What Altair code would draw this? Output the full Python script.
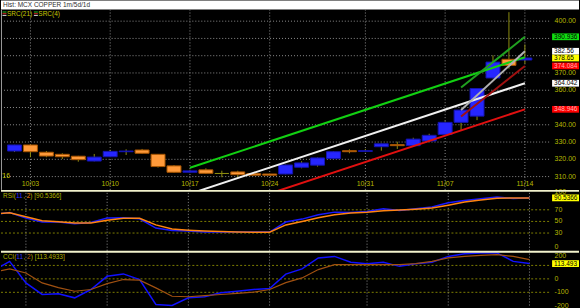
import json
import altair as alt
import pandas as pd

# ---------------- data ----------------
dates = ["09/30", "10/03", "10/04", "10/05", "10/06", "10/07", "10/10", "10/11", "10/12",
         "10/13", "10/14", "10/17", "10/18", "10/19", "10/20", "10/21", "10/24", "10/25",
         "10/26", "10/27", "10/28", "10/30", "10/31", "11/01", "11/02", "11/03", "11/04",
         "11/07", "11/08", "11/09", "11/10", "11/11", "11/14"]
opens = [324.8, 328.3, 324.1, 322.9, 321.8, 319.0, 321.5, 324.4, 325.4, 322.9, 316.2, 312.5,
         313.9, 311.8, 312.7, 311.7, 311.5, 311.5, 315.4, 316.6, 320.4, 325.0, 324.6, 327.3,
         328.5, 327.9, 330.6, 334.4, 341.4, 345.0, 367.1, 377.9, 377.5]
closes = [328.3, 324.4, 321.9, 321.5, 319.8, 321.3, 324.6, 324.8, 323.5, 315.8, 312.5, 313.3,
          311.9, 311.8, 311.1, 310.8, 310.8, 316.7, 317.9, 320.8, 324.4, 324.4, 325.0, 329.0,
          327.9, 331.7, 333.9, 341.4, 348.5, 361.0, 376.3, 374.4, 378.65]
highs = [328.4, 328.5, 324.8, 323.5, 322.0, 323.1, 325.5, 325.8, 326.0, 323.0, 316.6, 314.0,
         314.8, 313.4, 313.4, 311.9, 311.7, 316.9, 318.9, 321.0, 324.6, 325.8, 326.0, 329.2,
         330.2, 332.5, 334.8, 342.1, 348.7, 361.2, 380.2, 405.2, 386.5]
lows = [324.2, 321.2, 321.2, 320.2, 318.6, 318.8, 321.3, 322.5, 323.3, 315.2, 312.3, 312.3,
        311.7, 309.6, 309.4, 310.6, 310.6, 311.3, 314.8, 315.8, 320.2, 323.5, 324.1, 325.0,
        326.0, 327.7, 330.4, 334.2, 336.9, 342.7, 366.9, 372.5, 375.4]

tick_labels = ["10/03", "10/10", "10/17", "10/24", "10/31", "11/07", "11/14"]
price_grid = [310, 320, 330, 340, 350, 360, 370, 380, 390, 400]
price_labels = [310, 320, 330, 340, 360, 370, 400]
rsi_labels = [0, 30, 50, 70, 100]
rsi_grid = [30, 50, 70]
cci_labels = [-200, -100, 0, 200]
cci_grid = [-100, 0, 100]

# indicator values for bars -1 .. 32
ind_idx = list(range(-1, 33))
rsi = [62, 65.4, 55.7, 49, 48.9, 46, 48.2, 55.7, 56.3, 54.5, 38.6, 34.5, 33.4, 32, 31.7,
       31.7, 31.7, 31.7, 49, 54, 61.5, 66, 65.4, 67.1, 72, 69, 72, 75, 82, 86, 89, 92, 89.5,
       90.54]
rsi_signal = [63, 65, 58, 51, 49.5, 47.5, 47.5, 52, 55.5, 55.5, 44, 37, 35, 33.5, 32.5, 32,
              31.5, 31.5, 44, 50, 56.5, 61.5, 64.5, 66, 68.5, 69.5, 71, 73, 78, 83.5, 87, 90,
              90.5, 90.5]
cci = [60, 130, -30, -116, -111, -141, -79, 19, 37, -5, -190, -198, -141, -133, -104, -92,
       -79, -72, 35, 74, 156, 167, 123, 113, 123, 93, 113, 123, 167, 187, 193, 193, 130,
       113.49]
cci_signal = [50, 74, 44, -30, -65, -92, -79, -35, -5, -10, -67, -129, -133, -125, -116, -108,
              -99, -79, -28, 7, 69, 106, 106, 106, 106, 106, 113, 130, 156, 167, 175, 180, 167,
              143]

# regression channels (start bar, end bar, start value, end value)
src21_bars = [11, 32]
src21_upper = [315.09, 379.14]
src21_mid = [300.0, 364.042]
src21_lower = [284.9, 348.946]
src4_bars = [28, 32]
src4_upper = [361.6, 390.936]
src4_mid = [348.5, 382.56]
src4_lower = [344.75, 374.084]

price_tags = [390.936, 382.56, 378.65, 374.084, 364.042, 348.946]
price_tag_kinds = ["src4_upper", "src4_mid", "last", "src4_lower", "src21_mid", "src21_lower"]
price_tag_texts = ["390.936", "382.56", "378.65", "374.084", "364.042", "348.946"]
rsi_tag = 90.5366
cci_tag = 113.493

# ---------------- styling ----------------
FONT = "Liberation Sans"
FS = 7
AXIS_TXT = "#b8b800"
OLIVE_TXT = "#b0b000"
BAR_W = 16.3
X0 = 8.7
PLOT_W = 552
LABEL_X = 555.5
xdom = [-X0 / BAR_W, (PLOT_W - X0) / BAR_W]
xscale = alt.Scale(domain=xdom, nice=False, zero=False)
tick_pos = [dates.index(t) for t in tick_labels]
GRID = "#8c8c8c"
NOAX = None

# Arial / Liberation Sans advance widths (per em) for caption layout
CW = {"R": .722, "S": .667, "I": .278, "C": .722, "(": .333, ")": .333, ",": .278, " ": .278,
      "[": .278, "]": .278, ".": .278}

candles = pd.DataFrame({"i": list(range(len(dates))), "date": dates, "open": opens,
                        "high": highs, "low": lows, "close": closes})
candles["dir"] = ["up" if c > o else ("down" if c < o else "flat")
                  for o, c in zip(opens, closes)]

def seg(name, bars, vals):
    return pd.DataFrame({"line": name, "i": bars, "v": vals})

chan = pd.concat([
    seg("u21", src21_bars, src21_upper), seg("m21", src21_bars, src21_mid),
    seg("l21", src21_bars, src21_lower), seg("u4", src4_bars, src4_upper),
    seg("m4", src4_bars, src4_mid), seg("l4", src4_bars, src4_lower)])

one = pd.DataFrame({"k": [0]})
ticks_df = pd.DataFrame({"i": tick_pos, "lab": tick_labels})


def vgrid(h):
    return alt.Chart(ticks_df).mark_rule(color=GRID, strokeDash=[1, 2], strokeWidth=1).encode(
        x=alt.X("i:Q", scale=xscale, axis=NOAX), y=alt.value(0), y2=alt.value(h))


def hgrid(vals, ys, color, dash):
    return alt.Chart(pd.DataFrame({"g": vals})).mark_rule(
        color=color, strokeDash=dash, strokeWidth=1).encode(
        y=alt.Y("g:Q", scale=ys, axis=NOAX), x=alt.value(0), x2=alt.value(PLOT_W))


def ylabels(vals, ys, fmt, baseline="middle"):
    df = pd.DataFrame({"v": vals, "t": [fmt % v for v in vals]})
    return alt.Chart(df).mark_text(align="left", baseline=baseline, font=FONT, fontSize=FS,
                                   color=AXIS_TXT, clip=False).encode(
        x=alt.value(LABEL_X), y=alt.Y("v:Q", scale=ys, axis=NOAX), text="t:N")


def caption(parts, y, size=6.5):
    layers = []
    x = 2.0
    for txt, col in parts:
        layers.append(alt.Chart(pd.DataFrame({"t": [txt]})).mark_text(
            align="left", baseline="middle", font=FONT, fontSize=size, color=col).encode(
            x=alt.value(x), y=alt.value(y), text="t:N"))
        x += sum(CW.get(ch, .556) for ch in txt) * size
    return layers


# ---------------- title panel ----------------
title_bg = alt.Chart(one).mark_rect(color="white").encode(
    x=alt.value(0), x2=alt.value(580), y=alt.value(0), y2=alt.value(9))
title_txt = alt.Chart(pd.DataFrame({"t": ["Hist: MCX COPPER 1m/5d/1d"]})).mark_text(
    align="left", baseline="middle", font=FONT, fontSize=6.5, color="#303030"
).encode(x=alt.value(2), y=alt.value(4.5), text="t:N")
title_panel = alt.layer(title_bg, title_txt).properties(width=580, height=9)

# ---------------- main panel ----------------
MAIN_H = 181
ydom = [302.3, 406.75]
yscale = alt.Scale(domain=ydom, nice=False, zero=False)

cbase = alt.Chart(candles)
wicks = cbase.mark_rule(color="#8c8c10", strokeWidth=1).encode(
    x=alt.X("i:Q", scale=xscale, axis=NOAX),
    y=alt.Y("low:Q", scale=yscale, axis=NOAX), y2="high:Q")
bodies = cbase.mark_bar(size=14, strokeWidth=1).encode(
    x=alt.X("i:Q", scale=xscale, axis=NOAX),
    y=alt.Y("open:Q", scale=yscale, axis=NOAX), y2="close:Q",
    fill=alt.Fill("dir:N", scale=alt.Scale(domain=["up", "down", "flat"],
                                           range=["#2626ff", "#ff9a3a", "#8c8c10"]), legend=None),
    stroke=alt.Stroke("dir:N", scale=alt.Scale(domain=["up", "down", "flat"],
                                               range=["#1414b0", "#a85400", "#8c8c10"]), legend=None))
lines = alt.Chart(chan).mark_line(clip=True).encode(
    x=alt.X("i:Q", scale=xscale, axis=NOAX), y=alt.Y("v:Q", scale=yscale, axis=NOAX),
    detail="line:N",
    color=alt.Color("line:N", scale=alt.Scale(
        domain=["u21", "m21", "l21", "u4", "m4", "l4"],
        range=["#12d012", "#f0f0f0", "#e01010", "#20a020", "#b0b0b0", "#a01010"]), legend=None),
    strokeWidth=alt.StrokeWidth("line:N", scale=alt.Scale(
        domain=["u21", "m21", "l21", "u4", "m4", "l4"], range=[2, 2, 2, 1, 1, 1]), legend=None))

tags = pd.DataFrame({"v": price_tags, "kind": price_tag_kinds, "txt": price_tag_texts})
tag_kinds = ["src4_upper", "src4_mid", "last", "src4_lower", "src21_mid", "src21_lower"]
tag_rect = alt.Chart(tags).transform_calculate(lo="datum.v - 1.95", hi="datum.v + 1.95").mark_rect(
    clip=False).encode(
    x=alt.value(553), x2=alt.value(580), y=alt.Y("lo:Q", scale=yscale, axis=NOAX), y2="hi:Q",
    fill=alt.Fill("kind:N", scale=alt.Scale(domain=tag_kinds, range=[
        "#10e010", "#ffffff", "#ffff00", "#ff0000", "#ffffff", "#ff0000"]), legend=None))
tag_text = alt.Chart(tags).mark_text(align="left", baseline="middle", font=FONT, fontSize=6.5,
                                     clip=False).encode(
    x=alt.value(555), y=alt.Y("v:Q", scale=yscale, axis=NOAX), text="txt:N",
    color=alt.Color("kind:N", scale=alt.Scale(domain=tag_kinds, range=[
        "#000000", "#000000", "#000000", "#ffb0b0", "#000000", "#ffb0b0"]), legend=None))

date_txt = alt.Chart(ticks_df).mark_text(align="center", baseline="middle", font=FONT,
                                         fontSize=FS, color=AXIS_TXT).encode(
    x=alt.X("i:Q", scale=xscale, axis=NOAX), y=alt.value(175.5), text="lab:N")

hdr = alt.Chart(pd.DataFrame({"t": ["SRC(21)", "SRC(4)"], "px": [6, 37.5]})).mark_text(
    align="left", baseline="middle", font=FONT, fontSize=6.5, color="#c8c800").encode(
    x=alt.X("px:Q", scale=None), y=alt.value(4.5), text="t:N")
icons = []
for x0 in (1.5, 33):
    for yy, col in ((2.5, "#20c020"), (4.2, "#d02020"), (5.9, "#e0e0e0")):
        icons.append(alt.Chart(one).mark_rule(color=col, strokeWidth=1).encode(
            x=alt.value(x0), x2=alt.value(x0 + 4), y=alt.value(yy)))
yr = alt.Chart(pd.DataFrame({"t": ["'16"]})).mark_text(
    align="left", baseline="middle", font=FONT, fontSize=FS, color="#c8c800").encode(
    x=alt.value(0), y=alt.value(167.5), text="t:N")
leftline = alt.Chart(one).mark_rule(color="#9a9a9a", strokeWidth=1).encode(
    x=alt.value(0.5), y=alt.value(0), y2=alt.value(MAIN_H))

main = alt.layer(
    hgrid(price_grid, yscale, GRID, [1, 2]), vgrid(MAIN_H),
    ylabels(price_labels, yscale, "%.2f"), date_txt,
    wicks, bodies, lines, tag_rect, tag_text, hdr, yr, leftline, *icons
).resolve_scale(
    fill="independent", color="independent", stroke="independent", strokeWidth="independent"
).properties(width=PLOT_W, height=MAIN_H)


# ---------------- indicator panels ----------------
def sub_panel(height, dom, main_vals, sig_vals, colors, widths, label_vals, grid_values,
              tag_val, tag_txt, cap_parts, top_lab, bottom_lab):
    ys = alt.Scale(domain=dom, nice=False, zero=False)
    df = pd.concat([pd.DataFrame({"i": ind_idx, "v": main_vals, "s": "main"}),
                    pd.DataFrame({"i": ind_idx, "v": sig_vals, "s": "sig"})])
    ln = alt.Chart(df).mark_line(clip=True).encode(
        x=alt.X("i:Q", scale=xscale, axis=NOAX),
        y=alt.Y("v:Q", scale=ys, axis=NOAX),
        detail="s:N",
        color=alt.Color("s:N", scale=alt.Scale(domain=["sig", "main"], range=colors[::-1]),
                        legend=None),
        strokeWidth=alt.StrokeWidth("s:N", scale=alt.Scale(domain=["sig", "main"],
                                                           range=widths[::-1]), legend=None),
        order=alt.Order("s:N"))
    tg = pd.DataFrame({"v": [tag_val], "txt": [tag_txt]})
    half = (dom[1] - dom[0]) / height * 3.4
    trect = alt.Chart(tg).transform_calculate(
        lo="datum.v - %f" % half, hi="datum.v + %f" % half).mark_rect(
        clip=False, color="#ffff00").encode(
        x=alt.value(553), x2=alt.value(580), y=alt.Y("lo:Q", scale=ys, axis=NOAX), y2="hi:Q")
    ttxt = alt.Chart(tg).mark_text(align="left", baseline="middle", font=FONT, fontSize=6.5,
                                   color="black", clip=False).encode(
        x=alt.value(555), y=alt.Y("v:Q", scale=ys, axis=NOAX), text="txt:N")
    sep = alt.Chart(one).mark_rule(color="#f2f2cc", strokeWidth=2).encode(
        x=alt.value(0), x2=alt.value(580), y=alt.value(1))
    mid_labels = [v for v in label_vals if v not in (top_lab, bottom_lab)]
    lab_layers = [ylabels(mid_labels, ys, "%d")]
    if top_lab is not None:
        lab_layers.append(ylabels([top_lab], ys, "%d", "top"))
    if bottom_lab is not None:
        lab_layers.append(ylabels([bottom_lab], ys, "%d", "bottom"))
    return alt.layer(
        hgrid(grid_values, ys, "#7c7c00", [2, 2]), vgrid(height), *lab_layers,
        ln, trect, ttxt, *caption(cap_parts, 6), sep
    ).resolve_scale(color="independent", strokeWidth="independent").properties(
        width=PLOT_W, height=height)


rsi_panel = sub_panel(61, [-0.34, 104.3], rsi, rsi_signal, ["#1818ff", "#ff8410"],
                      [1.5, 1.5], rsi_labels, rsi_grid, rsi_tag, "90.5366",
                      [("RSI(", OLIVE_TXT), ("11", "#3030ff"), (", ", OLIVE_TXT),
                       ("2", "#ff8410"), (") [90.5366]", OLIVE_TXT)], None, 0)
cci_panel = sub_panel(57, [-212.6, 209.6], cci, cci_signal, ["#1010ff", "#a05010"],
                      [1.5, 1.2], cci_labels, cci_grid, cci_tag, "113.493",
                      [("CCI(", OLIVE_TXT), ("11", "#3030ff"), (", ", OLIVE_TXT),
                       ("2", "#c06018"), (") [113.4933]", OLIVE_TXT)], 200, None)

chart = alt.vconcat(title_panel, main, rsi_panel, cci_panel, spacing=0, bounds="flush").properties(
    padding=0, background="black").configure_view(strokeWidth=0)

chart.save("out.html", embed_options={"renderer": "svg", "actions": False})
